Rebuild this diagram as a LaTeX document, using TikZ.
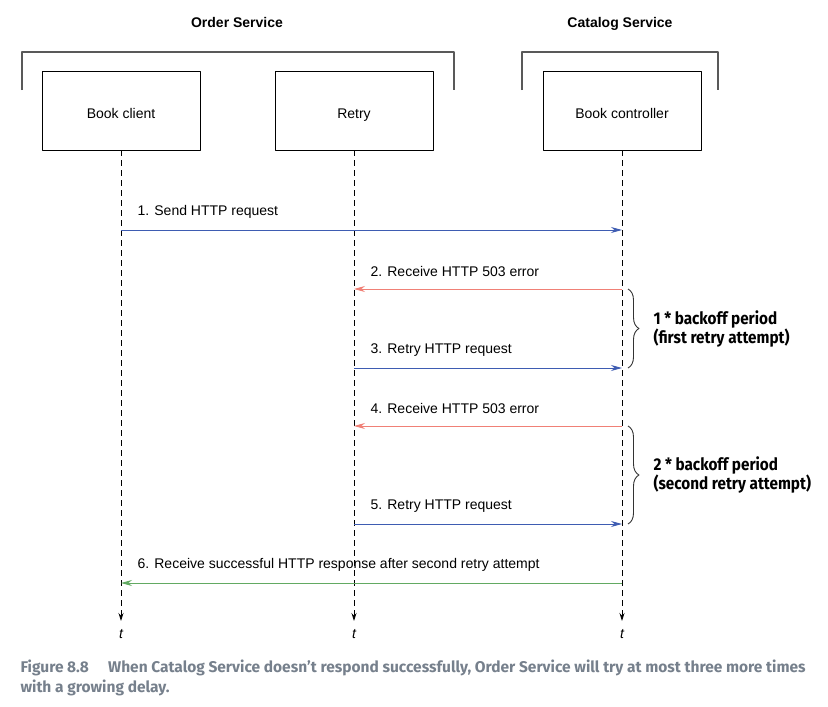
\documentclass[tikz,border=0pt]{standalone}
\usepackage{fontspec}
\setmainfont{Liberation Sans}
\newfontfamily\condfont[FakeStretch=0.9]{Fira Sans}
\newfontfamily\capfont{Fira Sans}
\usetikzlibrary{positioning,calc,arrows.meta,decorations.pathreplacing}
\definecolor{reqblue}{RGB}{62,92,178}
\definecolor{errred}{RGB}{240,128,118}
\definecolor{okgreen}{RGB}{98,170,98}
\definecolor{capgray}{RGB}{118,128,140}
\begin{document}
\begin{tikzpicture}[>={Stealth[length=11pt,width=6pt]},line join=round,font=\fontsize{14}{16}\selectfont,x=1pt,y=-1pt]
	\tikzset{
		actor/.style={draw,line width=0.8pt,minimum width=158pt,minimum height=79pt,text height=18pt,text depth=3pt},
		life/.style={-{Stealth[length=8pt,width=5pt]},line width=0.8pt,dash pattern=on 6pt off 4pt},
		msg/.style={->,line width=0.9pt},
		grp/.style={line width=1.1pt,draw=black!65},
		brc/.style={decorate,decoration={brace,amplitude=11pt},line width=0.9pt,draw=black!80},
		blab/.style={anchor=west,align=left,font=\condfont\bfseries\fontsize{17}{19}\selectfont},
		title/.style={anchor=base,font=\bfseries\fontsize{14}{16}\selectfont}
	}
	\useasboundingbox (0,0) rectangle (828,707);
	% services
	\node[title] (order) at (237,27) {Order Service};
	\node[title] (catalog) at (620,27) {Catalog Service};
	\draw[grp] (22,90) |- (454,52) -- (454,90);
	\draw[grp] (522,90) |- (718,52) -- (718,90);
	% actors and lifelines
	\foreach \name/\x/\txt in {client/121/Book client,retry/354/Retry,ctrl/622/Book controller}{
		\node[actor] (\name) at (\x,110.5) {\txt};
		\coordinate (\name-end) at (\x,621);
		\draw[life] (\name.south) -- (\name-end);
		\node (\name-t) at (\x,634) {\itshape t};
	}
	% messages
	\foreach \n/\y/\a/\b/\l/\col/\txt in {
		1/230/client/ctrl/client/reqblue/{1. Send HTTP request},
		2/289/ctrl/retry/retry/errred/{2. Receive HTTP 503 error},
		3/368/retry/ctrl/retry/reqblue/{3. Retry HTTP request},
		4/426/ctrl/retry/retry/errred/{4. Receive HTTP 503 error},
		5/524/retry/ctrl/retry/reqblue/{5. Retry HTTP request},
		6/583/ctrl/client/client/okgreen/{6. Receive successful HTTP response after second retry attempt}}{
		\coordinate (m\n) at (0,\y);
		\draw[msg,draw=\col,fill=\col] (\a |- m\n) -- (\b |- m\n);
		\path (\l |- m\n) ++(13,-18) node[anchor=west] (lab\n) {\txt};
	}
	% backoff braces
	\draw[brc] ($(m2 -| ctrl)+(6,0)$) -- ($(m3 -| ctrl)+(6,0)$) coordinate[midway,xshift=22pt] (b1);
	\node[blab] (back1) at (b1) {1 * backoff period\\(first retry attempt)};
	\draw[brc] ($(m4 -| ctrl)+(6,0)$) -- ($(m5 -| ctrl)+(6,0)$) coordinate[midway,xshift=22pt] (b2);
	\node[blab] (back2) at (b2) {2 * backoff period\\(second retry attempt)};
	% caption
	\node[anchor=north west,align=left,text=capgray,font=\capfont\bfseries\fontsize{15.5}{20}\selectfont] (cap) at (17,656)
		{Figure 8.8\hspace{1em} When Catalog Service doesn’t respond successfully, Order Service will try at most three more times\\with a growing delay.};
\end{tikzpicture}
\end{document}
